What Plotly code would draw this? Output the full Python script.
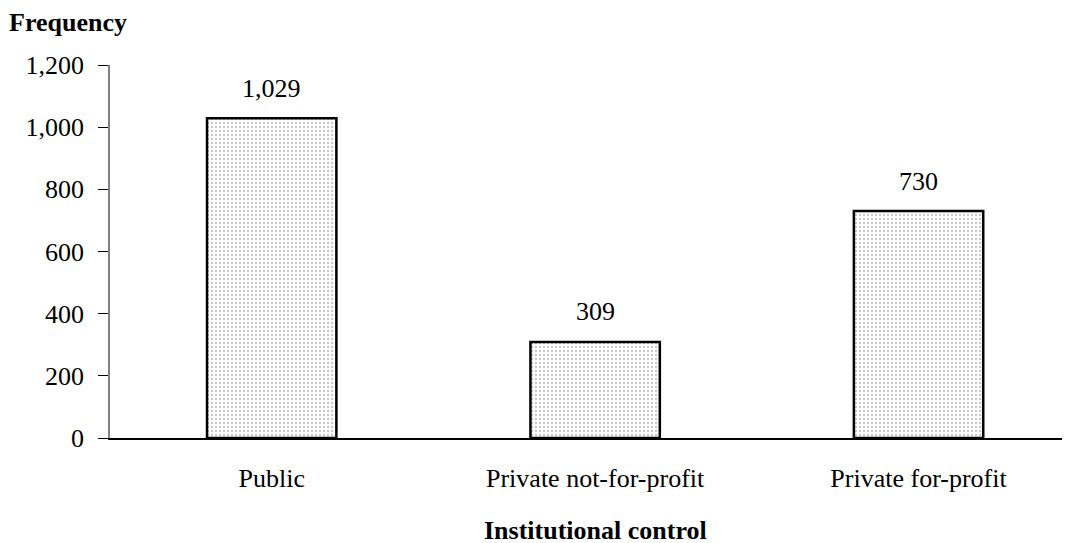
import plotly.graph_objects as go

categories = ["Public", "Private not-for-profit", "Private for-profit"]
values = [1029, 309, 730]
y_ticks = [0, 200, 400, 600, 800, 1000, 1200]

FONT = "Liberation Serif"

fig = go.Figure()
fig.add_trace(go.Bar(
    x=categories, y=values, width=0.40,
    marker=dict(color="white",
                line=dict(color="black", width=2.5),
                pattern=dict(shape=".", fgcolor="#8f8f8f", bgcolor="white",
                             size=4, solidity=0.28)),
    hoverinfo="skip",
))

for c, v in zip(categories, values):
    fig.add_annotation(x=c, y=v, text=f"{v:,}", showarrow=False,
                       yanchor="middle", yshift=30,
                       font=dict(family=FONT, size=26, color="black"))

fig.add_annotation(xref="paper", yref="paper", x=-0.106, y=1.115,
                   xanchor="left", yanchor="middle", text="<b>Frequency</b>",
                   showarrow=False,
                   font=dict(family=FONT, size=26, color="black"))
fig.add_annotation(xref="x", yref="paper", x=1, y=-0.247,
                   xanchor="center", yanchor="middle", text="<b>Institutional control</b>",
                   showarrow=False,
                   font=dict(family=FONT, size=26, color="black"))

fig.update_layout(
    width=1070, height=543,
    margin=dict(l=102, r=0, t=57, b=113),
    paper_bgcolor="white", plot_bgcolor="white",
    showlegend=False,
    font=dict(family=FONT, size=26, color="black"),
    xaxis=dict(range=[-0.5, 2.493], showgrid=False, zeroline=False,
               showline=True, linecolor="black", linewidth=1.5,
               ticks="", ticklabelstandoff=16,
               tickfont=dict(family=FONT, size=26)),
    yaxis=dict(range=[0, 1200], tickvals=y_ticks, tickformat=",d",
               showgrid=False, zeroline=False,
               showline=True, linecolor="#808080", linewidth=1.5,
               ticks="outside", ticklen=10, tickcolor="black", tickwidth=1.2,
               ticklabelstandoff=9,
               tickfont=dict(family=FONT, size=26)),
)

fig.write_html("out.html")
